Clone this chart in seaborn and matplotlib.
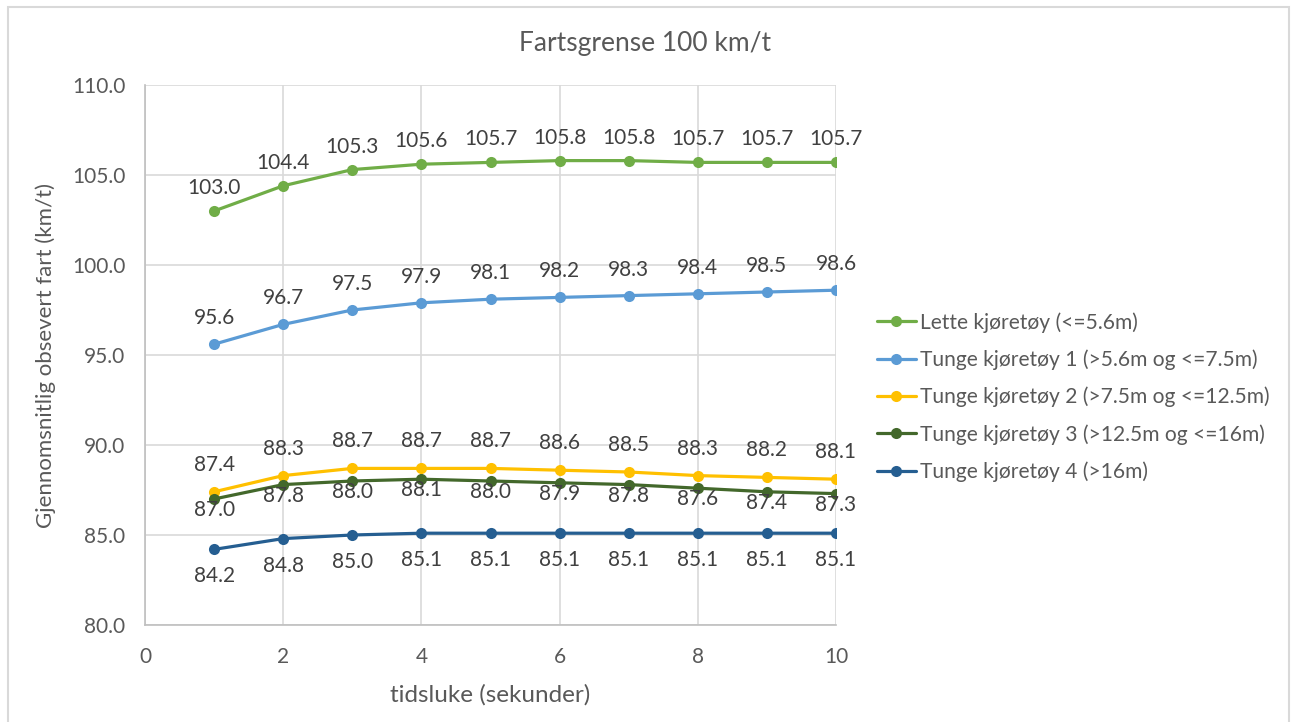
import matplotlib
matplotlib.use("Agg")
import matplotlib.pyplot as plt
from matplotlib.patches import Rectangle
import seaborn as sns
import pandas as pd

# Time gap (seconds) and mean observed speed per vehicle class
tidsluke = [1, 2, 3, 4, 5, 6, 7, 8, 9, 10]
lette = [103.0, 104.4, 105.3, 105.6, 105.7, 105.8, 105.8, 105.7, 105.7, 105.7]
tunge1 = [95.6, 96.7, 97.5, 97.9, 98.1, 98.2, 98.3, 98.4, 98.5, 98.6]
tunge2 = [87.4, 88.3, 88.7, 88.7, 88.7, 88.6, 88.5, 88.3, 88.2, 88.1]
tunge3 = [87.0, 87.8, 88.0, 88.1, 88.0, 87.9, 87.8, 87.6, 87.4, 87.3]
tunge4 = [84.2, 84.8, 85.0, 85.1, 85.1, 85.1, 85.1, 85.1, 85.1, 85.1]

serier = [
    "Lette kjøretøy (<=5.6m)",
    "Tunge kjøretøy 1 (>5.6m og <=7.5m)",
    "Tunge kjøretøy 2 (>7.5m og <=12.5m)",
    "Tunge kjøretøy 3 (>12.5m og <=16m)",
    "Tunge kjøretøy 4 (>16m)",
]
verdier = [lette, tunge1, tunge2, tunge3, tunge4]
farger = ["#70AD47", "#5B9BD5", "#FFC000", "#43682B", "#255E91"]
# vertical label offset in pixels (positive = above the point)
label_offset = [23, 26, 27, -11, -27]

rows = []
for navn, vals in zip(serier, verdier):
    for x, v in zip(tidsluke, vals):
        rows.append({"tidsluke": x, "fart": v, "serie": navn})
df = pd.DataFrame(rows)

sns.set_theme(style="white")
plt.rcParams["font.family"] = ["Lato", "DejaVu Sans"]
tekst = "#595959"

fig = plt.figure(figsize=(12.91, 7.22), dpi=100)
ax = fig.add_axes([145 / 1291, 1 - 625 / 722, (836 - 145) / 1291, (625 - 85) / 722])

sns.lineplot(
    data=df, x="tidsluke", y="fart", hue="serie", hue_order=serier,
    palette=farger, marker="o", markersize=8, markeredgewidth=0,
    linewidth=2.3, ax=ax,
)

for vals, farge, off in zip(verdier, farger, label_offset):
    for x, v in zip(tidsluke, vals):
        ax.annotate(f"{v:.1f}", (x, v), xytext=(0, off), textcoords="offset pixels",
                    ha="center", va="center", fontsize=15, color="#404040")

ax.set_xlim(0, 10)
ax.set_ylim(80, 110)
ax.set_xticks(range(0, 11, 2))
ax.set_yticks(range(80, 111, 5))
ax.set_yticklabels([f"{t:.1f}" for t in range(80, 111, 5)])
ax.grid(True, color="#D9D9D9", linewidth=1.2)
ax.tick_params(axis="both", length=0, labelsize=15, labelcolor=tekst)
ax.tick_params(axis="y", pad=14)
ax.tick_params(axis="x", pad=16)
for side in ["top", "right"]:
    ax.spines[side].set_visible(False)
for side in ["left", "bottom"]:
    ax.spines[side].set_color("#BFBFBF")
    ax.spines[side].set_linewidth(1.2)

ax.set_xlabel("tidsluke (sekunder)", fontsize=17.5, color=tekst, labelpad=12)
ax.set_ylabel("Gjennomsnitlig obsevert fart (km/t)", fontsize=16, color=tekst, labelpad=12)
fig.text(0.5, 1 - 43 / 722, "Fartsgrense 100 km/t", ha="center", va="center",
         fontsize=19, color=tekst)

handles, labels = ax.get_legend_handles_labels()
leg = ax.legend(handles, labels, loc="center left",
                bbox_to_anchor=(877 / 1291, 1 - 397 / 722),
                bbox_transform=fig.transFigure, frameon=False, fontsize=15.1,
                handlelength=1.85, handletextpad=0.2, labelspacing=0.8,
                borderaxespad=0, borderpad=0)
for t in leg.get_texts():
    t.set_color(tekst)

# outer chart frame
fig.patches.append(Rectangle((8 / 1291, -0.01), (1289 - 8) / 1291, 1 - 7 / 722 + 0.01,
                             transform=fig.transFigure, fill=False,
                             edgecolor="#D9D9D9", linewidth=1.5))

fig.savefig("out.png", dpi=100)
